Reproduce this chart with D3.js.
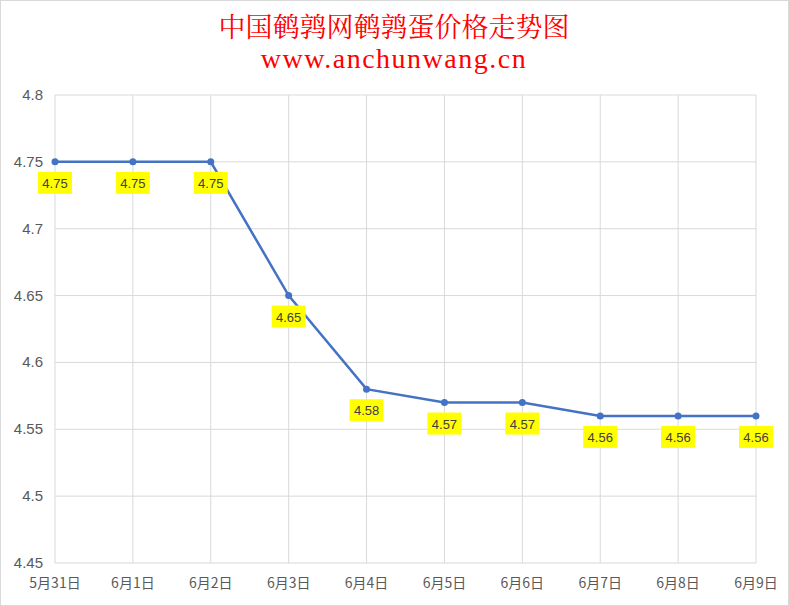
<!DOCTYPE html>
<html><head><meta charset="utf-8">
<script src="https://cdn.jsdelivr.net/npm/d3@7"></script>
<style>body{margin:0;background:#fff}</style>
</head><body><svg id="c" width="789" height="606"></svg>
<script>
const categories=["5月31日","6月1日","6月2日","6月3日","6月4日","6月5日","6月6日","6月7日","6月8日","6月9日"];
const values=[4.75,4.75,4.75,4.65,4.58,4.57,4.57,4.56,4.56,4.56];
const yTicks=[4.45,4.5,4.55,4.6,4.65,4.7,4.75,4.8];
const svg=d3.select("#c");
svg.append("rect").attr("x",0.5).attr("y",0.5).attr("width",788).attr("height",605).attr("fill","#fff").attr("stroke","#d9d9d9");
const x=d3.scalePoint().domain(categories).range([55,756]);
const y=d3.scaleLinear().domain([4.45,4.8]).range([563,95]);
const g=svg.append("g");
g.selectAll(".h").data(yTicks).join("line").attr("x1",55).attr("x2",756).attr("y1",d=>y(d)).attr("y2",d=>y(d)).attr("stroke","#d9d9d9");
g.selectAll(".v").data(categories).join("line").attr("x1",d=>x(d)).attr("x2",d=>x(d)).attr("y1",95).attr("y2",563).attr("stroke","#d9d9d9");
g.selectAll(".yt").data(yTicks).join("text").attr("x",43).attr("y",d=>y(d)+5).attr("text-anchor","end").attr("font-family","Liberation Sans, Arial").attr("font-size",15).attr("fill","#595959").text(d=>String(d));
g.selectAll(".xt").data(categories).join("text").attr("x",d=>x(d)).attr("y",588).attr("text-anchor","middle").attr("font-family","Noto Sans CJK SC").attr("font-size",14).attr("fill","#595959").text(d=>d);
const line=d3.line().x((d,i)=>x(categories[i])).y(d=>y(d));
g.append("path").datum(values).attr("d",line).attr("fill","none").attr("stroke","#4472c4").attr("stroke-width",2.5);
g.selectAll(".pt").data(values).join("circle").attr("cx",(d,i)=>x(categories[i])).attr("cy",d=>y(d)).attr("r",3.5).attr("fill","#4472c4");
const lab=g.selectAll(".lb").data(values).join("g").attr("transform",(d,i)=>`translate(${x(categories[i])},${y(d)+21})`);
lab.append("rect").attr("x",-17).attr("y",-11).attr("width",34).attr("height",22).attr("fill","#ffff00");
lab.append("text").attr("y",5).attr("text-anchor","middle").attr("font-family","Liberation Sans, Arial").attr("font-size",13).attr("fill","#404040").text(d=>d.toFixed(2));
svg.append("text").attr("x",394).attr("y",37).attr("text-anchor","middle").attr("font-family","Noto Serif CJK SC, Noto Sans CJK SC").attr("font-size",27).attr("fill","#ff0000").text("中国鹌鹑网鹌鹑蛋价格走势图");
svg.append("text").attr("x",394).attr("y",68).attr("text-anchor","middle").attr("font-family","Liberation Serif, Times New Roman").attr("font-size",28).attr("letter-spacing",1.5).attr("fill","#ff0000").text("www.anchunwang.cn");
</script></body></html>
